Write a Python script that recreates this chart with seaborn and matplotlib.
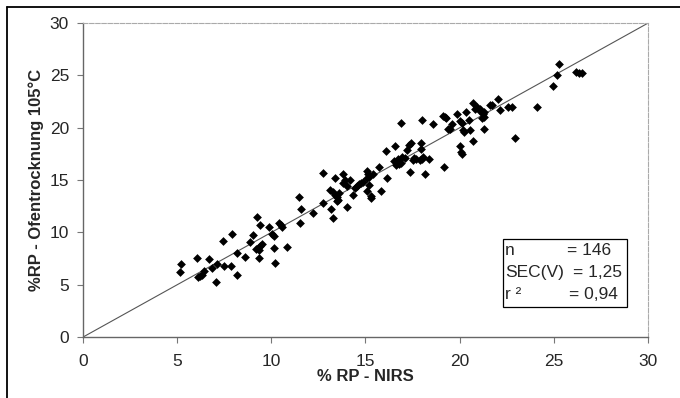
import matplotlib
matplotlib.use("Agg")
import matplotlib.pyplot as plt
import seaborn as sns
import pandas as pd
from matplotlib.lines import Line2D
from matplotlib.patches import Rectangle

# Messwerte: NIRS-Schaetzung (x) gegen Ofentrocknung 105 °C (y)
rp_nirs = [
    5.15, 5.2, 6.07, 6.09, 6.2, 6.34, 6.43, 6.69, 6.87, 7.06, 7.1, 7.42, 7.49, 7.88, 7.91,
    8.18, 8.2, 8.59, 8.87, 9.05, 9.22, 9.19, 9.3, 9.4, 9.5, 9.35, 9.4, 9.36, 9.9, 10.02,
    10.14, 10.2, 10.14, 10.43, 10.5, 10.55, 10.82,
    11.52, 11.58, 11.49, 12.23, 12.76, 12.76, 13.17, 13.3, 13.47, 13.38, 13.12, 13.3, 13.4,
    13.5, 13.55, 13.6, 13.82, 13.91, 13.79, 14.0, 14.0, 14.18, 14.35, 14.45, 14.55, 14.65,
    14.75, 14.85, 15.06, 15.15, 15.2, 15.1, 15.2, 15.28, 15.3, 15.06, 15.4, 15.7, 15.8,
    16.1, 16.16,
    16.57, 16.5, 16.6, 16.7, 16.8, 16.9, 16.95, 16.87, 17.19, 17.3, 17.4, 17.1, 17.37, 17.5,
    17.6, 17.7, 17.9, 18.0, 18.05, 17.93, 17.95, 17.98, 18.16, 18.39, 18.6, 19.1, 19.2,
    19.3, 19.17, 19.4, 19.5, 19.58, 19.84, 20.0, 20.1, 20.02, 20.05, 20.1, 20.18, 20.25,
    20.34, 20.5, 20.55, 20.7, 20.8, 20.9, 21.0, 21.1, 20.72, 21.17, 21.26, 21.3, 21.6,
    21.27, 21.3, 21.72, 22.02, 22.14, 22.57, 22.78, 22.96, 24.09, 24.97, 25.17, 25.28,
    26.2, 26.35, 26.5,
]
rp_ofen = [
    6.2, 7.0, 7.6, 5.76, 5.8, 5.9, 6.3, 7.45, 6.6, 5.3, 7.0, 9.2, 6.8, 6.8, 9.84,
    8.0, 5.9, 7.67, 9.07, 9.77, 11.43, 8.38, 8.5, 8.7, 8.9, 8.3, 10.7, 7.6, 10.5, 9.84,
    9.65, 7.04, 8.53, 10.9, 10.67, 10.5, 8.6,
    10.86, 12.23, 13.34, 11.88, 12.77, 15.7, 12.2, 11.34, 13.0, 15.17, 14.1, 13.9, 13.6,
    13.4, 13.1, 13.8, 15.54, 15.0, 14.68, 14.42, 12.39, 15.0, 13.56, 14.2, 14.4, 14.6,
    14.75, 14.85, 15.9, 15.6, 15.3, 15.2, 14.5, 13.5, 13.3, 14.0, 15.6, 16.27, 14.0,
    17.8, 15.16,
    18.24, 16.8, 16.4, 17.0, 16.5, 16.6, 17.2, 20.47, 17.86, 18.4, 18.55, 17.07, 15.8, 16.9,
    17.1, 17.0, 16.9, 17.0, 17.2, 18.56, 18.0, 20.73, 15.57, 17.06, 20.4, 21.1, 21.0,
    20.95, 16.27, 19.87, 19.87, 20.34, 21.36, 20.6, 20.5, 18.24, 17.7, 17.5, 19.8, 19.6,
    21.52, 20.73, 19.77, 22.4, 21.8, 22.0, 21.7, 21.75, 18.75, 20.9, 21.36, 19.9, 22.16,
    21.5, 21.0, 22.16, 22.7, 21.68, 21.97, 21.97, 19.03, 21.94, 23.97, 25.0, 26.07,
    25.3, 25.25, 25.2,
]
achse = [0, 30]
ticks = [0, 5, 10, 15, 20, 25, 30]
stat_namen = ["n", "SEC(V)", "r \u00b2"]
stat_werte = ["= 146", "= 1,25", "= 0,94"]

df = pd.DataFrame({"nirs": rp_nirs, "ofen": rp_ofen})

sns.set_style("white")
plt.rcParams['font.family'] = ['Liberation Sans', 'DejaVu Sans']

fig = plt.figure(figsize=(6.8, 3.98), dpi=100)
ax = fig.add_axes([0.122, 0.153, 0.831, 0.789])

# 1:1-Linie
ax.plot(achse, achse, color='#555555', lw=0.8, zorder=1)
sns.scatterplot(data=df, x='nirs', y='ofen', marker='D', color='black', s=20,
                edgecolor='black', linewidth=0, ax=ax, zorder=2)

ax.set_xlim(achse)
ax.set_ylim(achse)
ax.set_xticks(ticks)
ax.set_yticks(ticks)
ax.tick_params(axis='both', direction='out', length=4, width=0.8, color='#777777',
               labelsize=12.5, left=True, bottom=True)
ax.tick_params(axis='x', pad=8)
ax.tick_params(axis='y', pad=6)
ax.set_xlabel('% RP - NIRS', fontsize=12, fontweight='bold', labelpad=0)
ax.set_ylabel('%RP - Ofentrocknung 105°C', fontsize=12, fontweight='bold', labelpad=4)

for s in ['left', 'bottom']:
    ax.spines[s].set_color('#666666')
    ax.spines[s].set_linewidth(1.0)
for s in ['top', 'right']:
    ax.spines[s].set_color('#aaaaaa')
    ax.spines[s].set_linewidth(0.8)
    ax.spines[s].set_linestyle((0, (4, 1.5)))

# Statistik-Kasten
ax.add_patch(Rectangle((22.3, 2.87), 6.59, 6.49, fill=False, edgecolor='black', lw=0.9, zorder=3))
for i, (name, wert) in enumerate(zip(stat_namen, stat_werte)):
    yy = 8.31 - i * 2.12
    ax.text(22.4, yy, name, fontsize=12.5, va='center', ha='left')
    ax.text([25.7, 26.0, 25.8][i], yy, wert, fontsize=12.5, va='center', ha='left')

# Rahmen oben und links
fig.add_artist(Line2D([0.0103, 1.0], [0.9824, 0.9824], color='black', lw=1.3, transform=fig.transFigure))
fig.add_artist(Line2D([0.0103, 0.0103], [0.0, 0.9824], color='black', lw=1.3, transform=fig.transFigure))

fig.savefig('out.png', dpi=100)
